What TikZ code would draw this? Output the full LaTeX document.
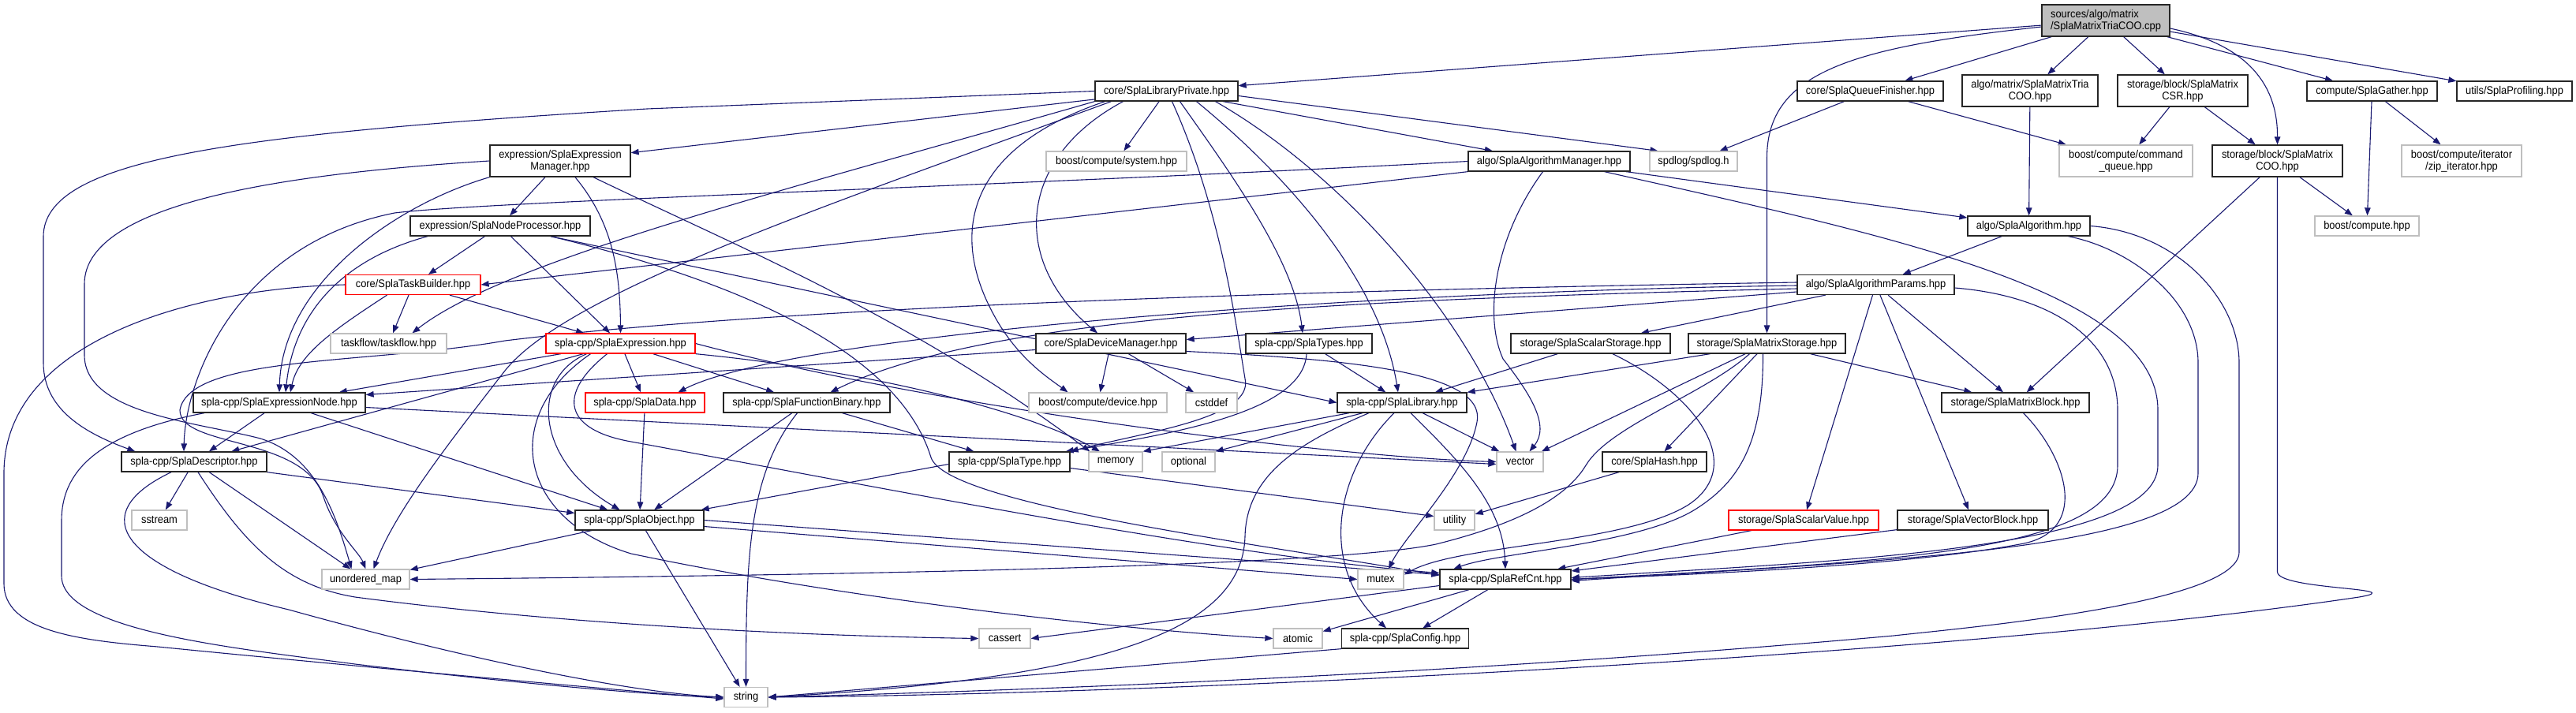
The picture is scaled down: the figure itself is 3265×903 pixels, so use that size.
\documentclass[tikz,border=0pt]{standalone}
\usepackage{fontspec}
\setmainfont{Liberation Sans}[FakeStretch=0.92]
\usetikzlibrary{arrows.meta}
\definecolor{edgeblue}{HTML}{191970}
\definecolor{sysgray}{HTML}{BFBFBF}
\definecolor{trunc}{HTML}{FF0000}
\newcommand{\dgf}{\fontsize{14}{15}\selectfont}
\pgfdeclarelayer{edgelayer}
\pgfsetlayers{edgelayer,main}
\tikzset{
  hdr/.style={draw=black!85, fill=white, line width=1.3pt, minimum height=25pt, inner sep=0pt, font=\dgf, align=center, text=black},
  sysh/.style={hdr, draw=sysgray},
  redh/.style={hdr, draw=trunc},
  dep/.style={draw=edgeblue, line width=1.1pt, -{Triangle[length=10pt,width=7.5pt]}}
}
\begin{document}
\begin{tikzpicture}[x=1pt,y=-1pt]
\useasboundingbox (0,0) rectangle (3265,903);
% ---------- nodes ----------
\node[hdr, fill=sysgray, minimum width=162pt, minimum height=40pt, align=left] (main) at (2669,26) {sources/algo/matrix\\/SplaMatrixTriaCOO.cpp};
\node[hdr, minimum width=181pt] (LibPriv) at (1478.5,115.5) {core/SplaLibraryPrivate.hpp};
\node[hdr, minimum width=185pt] (QueueFin) at (2370.5,115.5) {core/SplaQueueFinisher.hpp};
\node[hdr, minimum width=172pt, minimum height=40pt] (Tria) at (2573,115) {algo/matrix/SplaMatrixTria\\COO.hpp};
\node[hdr, minimum width=165pt, minimum height=40pt] (CSR) at (2766.5,115) {storage/block/SplaMatrix\\CSR.hpp};
\node[hdr, minimum width=165pt] (Gather) at (3006.5,115.5) {compute/SplaGather.hpp};
\node[hdr, minimum width=146pt] (Prof) at (3187,115.5) {utils/SplaProfiling.hpp};
\node[hdr, minimum width=178pt, minimum height=40pt] (ExprMgr) at (710,204) {expression/SplaExpression\\Manager.hpp};
\node[sysh, minimum width=178pt] (sys) at (1415,204.5) {boost/compute/system.hpp};
\node[hdr, minimum width=205pt] (AlgoMgr) at (1963.5,204.5) {algo/SplaAlgorithmManager.hpp};
\node[sysh, minimum width=111pt] (spdlog) at (2146.5,204.5) {spdlog/spdlog.h};
\node[sysh, minimum width=169pt, minimum height=40pt] (cmdq) at (2694.5,204) {boost/compute/command\\\_queue.hpp};
\node[hdr, minimum width=165pt, minimum height=40pt] (COO) at (2886.5,204) {storage/block/SplaMatrix\\COO.hpp};
\node[sysh, minimum width=152pt, minimum height=40pt] (zip) at (3120,204) {boost/compute/iterator\\/zip\_iterator.hpp};
\node[hdr, minimum width=228pt] (NodeProc) at (634,286.5) {expression/SplaNodeProcessor.hpp};
\node[hdr, minimum width=155pt] (Algo) at (2571.5,286.5) {algo/SplaAlgorithm.hpp};
\node[sysh, minimum width=132pt] (bch) at (3000,286.5) {boost/compute.hpp};
\node[redh, minimum width=171pt] (TaskB) at (523.5,361) {core/SplaTaskBuilder.hpp};
\node[hdr, minimum width=199pt] (AlgoPar) at (2377.5,361) {algo/SplaAlgorithmParams.hpp};
\node[sysh, minimum width=147pt] (tf) at (492.5,435.5) {taskflow/taskflow.hpp};
\node[redh, minimum width=189pt] (Expr) at (786.5,435.5) {spla-cpp/SplaExpression.hpp};
\node[hdr, minimum width=190pt] (DevMgr) at (1408,435.5) {core/SplaDeviceManager.hpp};
\node[hdr, minimum width=160pt] (Types) at (1659,435.5) {spla-cpp/SplaTypes.hpp};
\node[hdr, minimum width=202pt] (ScSt) at (2016,435.5) {storage/SplaScalarStorage.hpp};
\node[hdr, minimum width=199pt] (MaSt) at (2239.5,435.5) {storage/SplaMatrixStorage.hpp};
\node[hdr, minimum width=218pt] (ENode) at (354,510.5) {spla-cpp/SplaExpressionNode.hpp};
\node[redh, minimum width=151pt] (Data) at (817.5,510.5) {spla-cpp/SplaData.hpp};
\node[hdr, minimum width=211pt] (FBin) at (1022.5,510.5) {spla-cpp/SplaFunctionBinary.hpp};
\node[sysh, minimum width=175pt] (dev) at (1391.5,510.5) {boost/compute/device.hpp};
\node[sysh, minimum width=65pt] (cstddef) at (1535.5,510.5) {cstddef};
\node[hdr, minimum width=164pt] (Lib) at (1777,510.5) {spla-cpp/SplaLibrary.hpp};
\node[hdr, minimum width=187pt] (MBlk) at (2554.5,510.5) {storage/SplaMatrixBlock.hpp};
\node[hdr, minimum width=184pt] (Desc) at (246,585.5) {spla-cpp/SplaDescriptor.hpp};
\node[hdr, minimum width=153pt] (Type) at (1279.5,585.5) {spla-cpp/SplaType.hpp};
\node[sysh, minimum width=68pt] (memory) at (1414,585.5) {memory};
\node[sysh, minimum width=67pt] (optional) at (1506.5,585.5) {optional};
\node[sysh, minimum width=59pt] (vector) at (1926.5,585.5) {vector};
\node[hdr, minimum width=132pt] (Hash) at (2097,585.5) {core/SplaHash.hpp};
\node[sysh, minimum width=70pt] (sstream) at (202,659.5) {sstream};
\node[hdr, minimum width=163pt] (Obj) at (810.5,659.5) {spla-cpp/SplaObject.hpp};
\node[sysh, minimum width=51pt] (utility) at (1843.5,659.5) {utility};
\node[redh, minimum width=190pt] (ScVal) at (2286,659.5) {storage/SplaScalarValue.hpp};
\node[hdr, minimum width=191pt] (VBlk) at (2500.5,659.5) {storage/SplaVectorBlock.hpp};
\node[sysh, minimum width=111pt] (umap) at (463.5,734.5) {unordered\_map};
\node[sysh, minimum width=58pt] (mutex) at (1750,734.5) {mutex};
\node[hdr, minimum width=166pt] (RefCnt) at (1908,734.5) {spla-cpp/SplaRefCnt.hpp};
\node[sysh, minimum width=65pt] (cassert) at (1273.5,809.5) {cassert};
\node[sysh, minimum width=62pt] (atomic) at (1645,809.5) {atomic};
\node[hdr, minimum width=161pt] (Config) at (1781,809.5) {spla-cpp/SplaConfig.hpp};
\node[sysh, minimum width=55pt] (string) at (945.5,884) {string};
% ---------- edges ----------
\begin{pgfonlayer}{edgelayer}
\fill[white] (0,0) rectangle (3265,903);
% main
\draw[dep] (main) -- (LibPriv);
\draw[dep] ([yshift=-8pt]main.west) .. controls (2350,60) and (2239.5,90) .. (2239.5,200) -- (MaSt.north);
\draw[dep] (main) -- (QueueFin);
\draw[dep] (main) -- (Tria);
\draw[dep] (main) -- (CSR);
\draw[dep] ([yshift=-10pt]main.east) .. controls (2840,55) and (2887,100) .. (COO.north);
\draw[dep] (main) -- (Gather);
\draw[dep] (main) -- (Prof);
% LibPriv
\draw[dep] (LibPriv) -- (ExprMgr);
\draw[dep] (LibPriv.west) -- (820,138) .. controls (300,170) and (55,200) .. (55,300) -- (55,460) .. controls (55,520) and (110,550) .. ([xshift=18pt]Desc.north west);
\draw[dep] (LibPriv.south west) .. controls (1000,240) and (640,330) .. ([xshift=30pt]tf.north);
\draw[dep] ([xshift=-70pt]LibPriv.south) .. controls (1050,260) and (720,370) .. (640,470) .. controls (570,560) and (500,650) .. ([xshift=10pt]umap.north);
\draw[dep] ([xshift=-55pt]LibPriv.south) .. controls (1290,200) and (1280,330) .. ([xshift=-17pt]DevMgr.north);
\draw[dep] ([xshift=-78pt]LibPriv.south) .. controls (1220,190) and (1205,300) .. (1260,400) .. controls (1290,455) and (1330,480) .. ([xshift=-38pt]dev.north);
\draw[dep] (LibPriv) -- (sys);
\draw[dep] ([xshift=7pt]LibPriv.south) .. controls (1545,260) and (1565,400) .. (1578,480) .. controls (1590,530) and (1450,548) .. (Type.north east);
\draw[dep] ([xshift=17pt]LibPriv.south) .. controls (1560,220) and (1640,330) .. ([xshift=-8pt]Types.north);
\draw[dep] ([xshift=38pt]LibPriv.south) .. controls (1640,230) and (1750,360) .. ([xshift=-5pt]Lib.north);
\draw[dep] ([xshift=62pt]LibPriv.south) .. controls (1700,220) and (1860,400) .. ([xshift=-5pt]vector.north);
\draw[dep] (LibPriv) -- (AlgoMgr);
\draw[dep] ([yshift=-6pt]LibPriv.east) -- ([xshift=-45pt]spdlog.north);
% QueueFin, Tria, CSR, Gather, COO
\draw[dep] (QueueFin) -- (spdlog);
\draw[dep] (QueueFin) -- (cmdq);
\draw[dep] (Tria) -- (Algo);
\draw[dep] (CSR) -- (cmdq);
\draw[dep] (CSR) -- (COO);
\draw[dep] (Gather) -- (bch);
\draw[dep] (Gather) -- (zip);
\draw[dep] (COO) -- (bch);
\draw[dep] (COO) -- (MBlk);
\draw[dep] (COO.south) -- (2886.5,725) .. controls (2886.5,748) and (3060,745) .. (2990,757) .. controls (2500,830) and (1500,880) .. (string.east);
% Algorithm
\draw[dep] (Algo) -- (AlgoPar);
\draw[dep] ([xshift=50pt]Algo.south) .. controls (2700,315) and (2786,380) .. (2786,460) -- (2786,600) .. controls (2786,700) and (2350,712) .. ([yshift=-2pt]RefCnt.east);
\draw[dep] (Algo.east) .. controls (2760,295) and (2838,380) .. (2838,460) -- (2838,700) .. controls (2838,765) and (2500,795) .. (2400,806) .. controls (1800,860) and (1200,878) .. (string.east);
% AlgoMgr
\draw[dep] (AlgoMgr) -- (Algo);
\draw[dep] ([xshift=70pt]AlgoMgr.south) .. controls (2400,300) and (2735,370) .. (2735,520) -- (2735,590) .. controls (2735,700) and (2300,712) .. ([yshift=2pt]RefCnt.east);
\draw[dep] ([xshift=-8pt]AlgoMgr.south) .. controls (1895,300) and (1880,400) .. (1905,455) .. controls (1940,500) and (1965,540) .. ([xshift=12pt]vector.north);
\draw[dep] (AlgoMgr.west) .. controls (1300,235) and (620,255) .. (500,270) .. controls (300,310) and (235,480) .. ([xshift=-13pt]Desc.north);
\draw[dep] (AlgoMgr.south west) -- (TaskB.east);
% ExprMgr
\draw[dep] (ExprMgr) -- (NodeProc);
\draw[dep] ([xshift=19pt]ExprMgr.south) .. controls (775,280) and (786,340) .. (Expr.north);
\draw[dep] (ExprMgr.south west) .. controls (500,260) and (358,360) .. (ENode.north);
\draw[dep] (ExprMgr.west) .. controls (400,218) and (107,250) .. (107,360) -- (107,450) .. controls (107,525) and (250,535) .. (330,556) .. controls (400,578) and (425,650) .. ([xshift=-18pt]umap.north);
\draw[dep] ([xshift=42pt]ExprMgr.south) .. controls (950,320) and (1150,400) .. ([xshift=2pt]memory.north west);
% NodeProc
\draw[dep] (NodeProc) -- (TaskB);
\draw[dep] (NodeProc) -- (Expr);
\draw[dep] ([xshift=-92pt]NodeProc.south) .. controls (430,330) and (372,400) .. ([xshift=8pt]ENode.north);
\draw[dep] ([xshift=64pt]NodeProc.south) -- (Lib.west);
\draw[dep] ([xshift=64pt]NodeProc.south) .. controls (950,360) and (1140,450) .. (1180,580) .. controls (1200,640) and (1600,690) .. ([yshift=5pt]RefCnt.west);
% TaskBuilder
\draw[dep] (TaskB) -- (tf);
\draw[dep] (TaskB) -- (Expr);
\draw[dep] ([xshift=-33pt]TaskB.south) .. controls (420,420) and (378,450) .. ([xshift=14pt]ENode.north);
\draw[dep] (TaskB.west) .. controls (250,365) and (5,430) .. (5,600) -- (5,740) .. controls (5,800) and (100,812) .. (200,820) .. controls (400,840) and (750,872) .. ([yshift=-2pt]string.west);
% Expression
\draw[dep] (Expr) -- (ENode);
\draw[dep] (Expr) -- (Desc);
\draw[dep] ([xshift=-43pt]Expr.south) .. controls (670,480) and (680,585) .. ([xshift=-25pt]Obj.north);
\draw[dep] ([xshift=-38pt]Expr.south) .. controls (630,530) and (660,660) .. (800,702) .. controls (1100,765) and (1450,800) .. (atomic.west);
\draw[dep] ([xshift=-17pt]Expr.south) .. controls (705,500) and (715,545) .. (800,560) .. controls (1100,615) and (1550,705) .. ([yshift=8pt]RefCnt.west);
\draw[dep] (Expr) -- (Data);
\draw[dep] (Expr) -- (FBin);
\draw[dep] (Expr.south east) .. controls (1100,470) and (1300,520) .. ([xshift=-20pt]memory.north);
\draw[dep] (Expr.east) .. controls (1200,520) and (1700,580) .. (vector.west);
% Data, FuncBinary
\draw[dep] (Data) -- (Obj);
\draw[dep] (FBin) -- (Obj);
\draw[dep] ([xshift=-12pt]FBin.south) .. controls (950,600) and (945.5,700) .. (string.north);
\draw[dep] (FBin) -- (Type);
% DevMgr
\draw[dep] (DevMgr) -- (dev);
\draw[dep] (DevMgr) -- (cstddef);
\draw[dep] ([yshift=-8pt]DevMgr.west) -- ([yshift=10pt]ENode.east);
\draw[dep] ([yshift=-10pt]DevMgr.east) .. controls (1700,455) and (1885,470) .. (1872,535) .. controls (1860,600) and (1780,680) .. ([xshift=10pt]mutex.north);
% Types
\draw[dep] (Types) -- (Lib);
\draw[dep] ([xshift=-3pt]Types.south) .. controls (1652,520) and (1500,548) .. ([xshift=-6pt]Type.north east);
% Library
\draw[dep] (Lib) -- (vector);
\draw[dep] ([xshift=11pt]Lib.south) .. controls (1850,585) and (1905,640) .. (RefCnt.north);
\draw[dep] ([xshift=-10pt]Lib.south) .. controls (1690,600) and (1672,720) .. ([xshift=-24pt]Config.north);
\draw[dep] ([xshift=-42pt]Lib.south) .. controls (1650,560) and (1580,600) .. (1578,680) .. controls (1575,800) and (1400,860) .. (string.east);
\draw[dep] ([xshift=-67pt]Lib.south) -- (memory.north east);
\draw[dep] ([xshift=-50pt]Lib.south) -- (optional.north east);
% Type, Hash
\draw[dep] ([yshift=-3pt]Type.west) -- ([xshift=-4pt]Obj.north east);
\draw[dep] ([yshift=-8pt]Type.east) -- ([yshift=5pt]utility.west);
\draw[dep] (Hash) -- (utility);
% Object
\draw[dep] (Obj) -- (umap);
\draw[dep] (Obj) -- (string);
\draw[dep] (Obj.east) -- ([yshift=6pt]RefCnt.west);
\draw[dep] ([yshift=-8pt]Obj.east) -- (mutex.west);
% Descriptor
\draw[dep] (Desc) -- (sstream);
\draw[dep] (Desc) -- (umap);
\draw[dep] (Desc.south east) -- ([yshift=9pt]Obj.west);
\draw[dep] ([xshift=5pt]Desc.south) .. controls (310,690) and (360,742) .. (450,757) .. controls (700,790) and (1000,806) .. (cassert.west);
\draw[dep] ([xshift=-29pt]Desc.south) .. controls (105,652) and (150,722) .. (366,773) .. controls (600,838) and (800,878) .. (string.west);
% ExprNode
\draw[dep] (ENode) -- (Desc);
\draw[dep] (ENode) -- (Obj);
\draw[dep] ([xshift=-95pt]ENode.south) .. controls (120,550) and (78,600) .. (78,660) -- (78,730) .. controls (78,800) and (300,822) .. (450,842) .. controls (700,872) and (850,882) .. (string.west);
\draw[dep] ([yshift=-6pt]ENode.east) -- ([yshift=-3pt]vector.west);
% MatrixStorage
\draw[dep] ([xshift=-72pt]MaSt.south) -- (Lib.north east);
\draw[dep] (MaSt) -- (vector);
\draw[dep] (MaSt) -- (Hash);
\draw[dep] ([xshift=-22pt]MaSt.south) .. controls (2160,500) and (2040,540) .. (2010,590) .. controls (1980,640) and (1900,670) .. (1820,690) .. controls (1700,715) and (1200,728) .. (umap.east);
\draw[dep] ([xshift=-5pt]MaSt.south) .. controls (2235,560) and (2205,610) .. (2150,645) .. controls (2080,690) and (1900,700) .. ([xshift=18pt]RefCnt.north west);
\draw[dep] (MaSt) -- (MBlk);
% ScalarStorage
\draw[dep] (ScSt) -- (Lib);
\draw[dep] ([xshift=28pt]ScSt.south) .. controls (2150,500) and (2215,590) .. (2140,640) .. controls (2060,690) and (1850,690) .. ([yshift=6pt]mutex.east);
% AlgoParams
\draw[dep] (AlgoPar) -- (ScSt);
\draw[dep] (AlgoPar) -- (ScVal);
\draw[dep] (AlgoPar) -- (VBlk);
\draw[dep] (AlgoPar) -- (MBlk);
\draw[dep] ([yshift=-4pt]AlgoPar.east) .. controls (2600,375) and (2684,430) .. (2684,520) -- (2684,590) .. controls (2684,700) and (2400,712) .. (RefCnt.east);
\draw[dep] ([yshift=-9pt]AlgoPar.west) -- ([yshift=5pt]DevMgr.east);
\draw[dep] ([yshift=-5pt]AlgoPar.west) .. controls (1700,380) and (1250,400) .. ([xshift=30pt]FBin.north);
\draw[dep] ([yshift=-1pt]AlgoPar.west) .. controls (1700,370) and (1000,425) .. ([xshift=42pt]Data.north);
\draw[dep] ([yshift=3pt]AlgoPar.west) .. controls (1400,372) and (900,400) .. (640,432) .. controls (470,462) and (240,450) .. (228,520) .. controls (228,568) and (385,552) .. (410,630) .. controls (425,675) and (455,700) .. (umap.north);
% MatrixBlock, VectorBlock, ScalarValue
\draw[dep] ([xshift=10pt]MBlk.south) .. controls (2620,580) and (2650,675) .. (2560,690) .. controls (2400,720) and (2100,730) .. (RefCnt.east);
\draw[dep] (ScVal) -- (RefCnt);
\draw[dep] (VBlk) -- (RefCnt);
% RefCnt, Config
\draw[dep] ([yshift=-8pt]RefCnt.west) -- (cassert.east);
\draw[dep] (RefCnt) -- (atomic);
\draw[dep] (RefCnt) -- (Config);
\draw[dep] (Config.south west) -- (string.east);
\end{pgfonlayer}
\end{tikzpicture}
\end{document}
